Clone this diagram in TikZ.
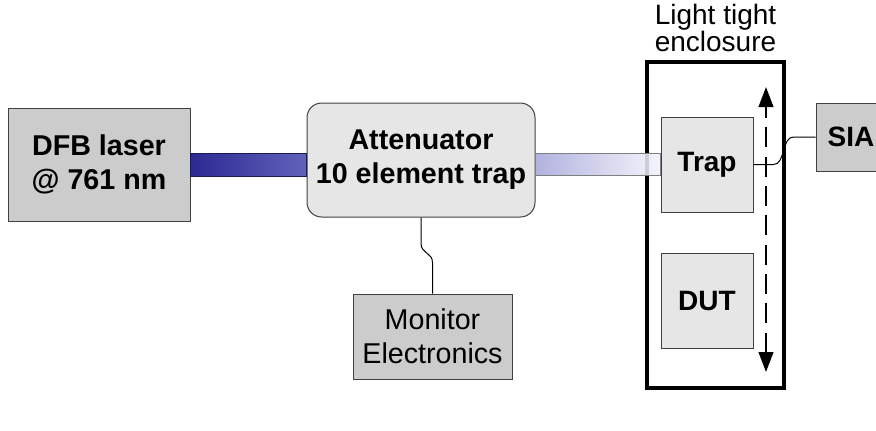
\documentclass[tikz,border=0pt]{standalone}
\usepackage{fontspec}
\setmainfont{Liberation Sans}
\usetikzlibrary{arrows.meta,calc,positioning}

\definecolor{boxgray}{HTML}{CCCCCC}
\definecolor{lightgray}{HTML}{E6E6E6}
\definecolor{edgegray}{HTML}{404040}
\definecolor{beamdark}{HTML}{2A2A92}
\definecolor{beammid}{HTML}{6262BC}
\definecolor{beamlight}{HTML}{A8A8DC}
\definecolor{beampale}{HTML}{F2F2FA}

\begin{document}
\begin{tikzpicture}[
    x=0.75pt, y=-0.75pt,
    box/.style={draw=edgegray, line width=0.75pt, fill=boxgray, inner sep=0pt, align=center, font=\fontsize{21.5}{25.5}\selectfont},
    roundbox/.style={box, fill=lightgray, rounded corners=11pt},
    inbox/.style={box, fill=lightgray, minimum width=69pt, minimum height=71.25pt, font=\fontsize{21}{25.5}\selectfont\bfseries},
    wire/.style={draw=black, line width=0.75pt},
    beam/.style={draw=#1, line width=0.75pt}
]
    \useasboundingbox (0,0) rectangle (876,430);

    % Source and attenuator
    \node[box, minimum width=136.5pt, minimum height=84.75pt, font=\fontsize{21.5}{25.5}\selectfont\bfseries] (laser) at (99,164.5) {DFB laser\\@ 761 nm};
    \node[roundbox, minimum width=171pt, minimum height=85.5pt, font=\fontsize{21.5}{25.5}\selectfont\bfseries] (att) at (421,160) {Attenuator\\10 element trap};
    \node[box, minimum width=119.25pt, minimum height=63.75pt] (mon) at (432.5,336.5) {Monitor\\Electronics};

    % Light tight enclosure
    \node[draw=black, line width=3pt, minimum width=102.75pt, minimum height=244.5pt] (encl) at (715.5,225) {};
    \node[anchor=south, align=center, font=\fontsize{21}{20.5}\selectfont, inner sep=0pt] (encllabel) at ($(encl.north)+(0,-8)$) {Light tight\\enclosure};
    \node[inbox] (trap) at (707,164.5) {Trap};
    \node[inbox] (dut) at (707,300.5) {DUT};
    \node[box, minimum width=52.5pt, minimum height=51pt, font=\fontsize{21}{25.5}\selectfont\bfseries] (sia) at (851,137) {SIA};

    % Translation stage
    \coordinate (stagetop) at (766,87);
    \coordinate (stagebot) at (766,372);
    \draw[line width=1.5pt, dash pattern=on 15pt off 7pt, arrows={Triangle[width=11pt,length=15pt]-Triangle[width=11pt,length=15pt]}] (stagebot) -- (stagetop);

    % Beams
    \shade[left color=beamdark, right color=beammid] ($(laser.east)+(0,-11.5)$) rectangle ($(att.west |- laser.east)+(0,11.5)$);
    \draw[beam=beamdark!60!black] ($(laser.east)+(0,-11.5)$) rectangle ($(att.west |- laser.east)+(0,11.5)$);
    \shade[left color=beamlight, right color=beampale, opacity=0.88] ($(att.east |- trap.west)+(0,-11)$) rectangle ($(trap.west)+(0,11)$);
    \draw[beam=gray] ($(att.east |- trap.west)+(0,-11)$) rectangle ($(trap.west)+(0,11)$);

    % Cables
    \draw[wire] (att.south) -- ++(0,26) .. controls +(0,10) and +(0,-10) .. ($(mon.north)+(0,-31)$) -- (mon.north);
    \draw[wire] (trap.east) -- ++(20,0) .. controls +(12,0) and +(-12,0) .. ($(sia.west)+(-22,0)$) -- (sia.west);
\end{tikzpicture}
\end{document}
